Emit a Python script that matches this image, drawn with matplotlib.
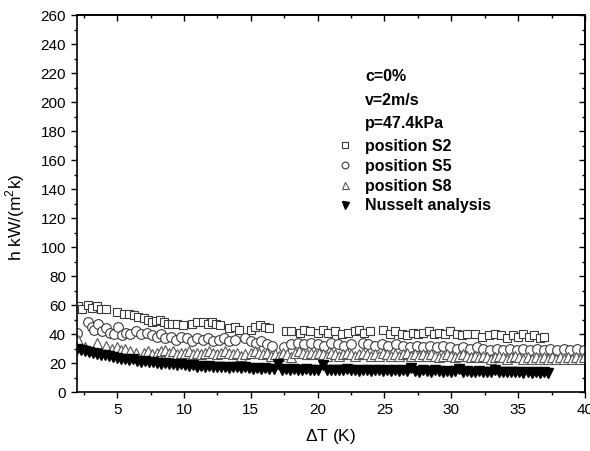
import matplotlib
matplotlib.use("Agg")
import matplotlib.pyplot as plt
from matplotlib.ticker import MultipleLocator

plt.rcParams['font.family'] = ['Liberation Sans', 'DejaVu Sans']
plt.rcParams['mathtext.fontset'] = 'custom'
plt.rcParams['mathtext.rm'] = 'Liberation Sans'

# heat transfer coefficient, position S2
s2_dt = [2.1, 2.4, 2.8, 3.1, 3.5, 3.8, 4.2, 5.0, 5.5, 5.9, 6.3, 6.6, 7.0, 7.3, 7.6, 7.9,
         8.2, 8.5, 8.8, 9.1, 9.5, 9.9, 10.6, 11.0, 11.4, 11.8, 12.1, 12.4, 12.7, 13.4,
         13.8, 14.1, 15.0, 15.3, 15.7, 16.1, 16.4, 17.6, 18.0, 18.7, 19.0, 19.4, 20.0,
         20.4, 20.8, 21.3, 21.8, 22.3, 22.8, 23.1, 23.5, 23.9, 24.9, 25.4, 25.8, 26.3,
         26.7, 27.1, 27.5, 27.9, 28.3, 28.7, 29.1, 29.5, 29.9, 30.4, 30.8, 31.2, 31.8,
         32.3, 32.8, 33.3, 33.7, 34.2, 34.6, 35.0, 35.4, 35.8, 36.2, 36.6, 36.9]
s2_h = [59, 57, 60, 58, 59, 57, 57, 55, 54, 54, 53, 52, 51, 50, 48, 49,
        50, 48, 47, 47, 47, 46, 47, 48, 48, 47, 48, 47, 46, 44,
        45, 43, 43, 45, 46, 45, 44, 42, 42, 41, 43, 42, 41,
        43, 41, 42, 40, 41, 42, 43, 41, 42, 43, 40, 42, 40,
        39, 41, 40, 41, 42, 40, 41, 40, 42, 40, 39, 40, 40,
        38, 39, 40, 39, 37, 39, 38, 40, 38, 39, 37, 38]

# position S5
s5_dt = [2.0, 2.8, 3.1, 3.3, 3.6, 3.9, 4.2, 4.5, 4.8, 5.1, 5.4, 5.7, 6.0, 6.4, 6.8, 7.2,
         7.6, 8.0, 8.3, 8.6, 9.0, 9.4, 9.8, 10.2, 10.6, 11.0, 11.4, 11.8, 12.2, 12.6,
         13.0, 13.4, 13.8, 14.6, 15.0, 15.4, 15.8, 16.2, 16.6, 17.5, 18.0, 18.5, 19.0,
         19.5, 20.0, 20.5, 21.0, 21.5, 22.0, 22.5, 23.4, 23.8, 24.3, 24.8, 25.3, 25.9,
         26.4, 26.9, 27.4, 27.9, 28.4, 28.9, 29.4, 29.9, 30.4, 30.9, 31.4, 31.9, 32.4,
         32.9, 33.4, 33.9, 34.4, 34.9, 35.4, 35.9, 36.4, 36.9, 37.4, 37.9, 38.4, 38.9,
         39.4, 39.9]
s5_h = [41, 48, 45, 43, 47, 42, 44, 41, 40, 45, 39, 41, 40, 42, 40, 41,
        39, 38, 40, 37, 38, 36, 38, 37, 35, 37, 36, 37, 35, 36,
        37, 35, 36, 37, 35, 34, 35, 33, 32, 31, 33, 34, 33,
        34, 33, 32, 34, 33, 32, 33, 34, 33, 32, 33, 32, 33,
        32, 31, 32, 31, 32, 31, 32, 31, 30, 31, 30, 31, 30,
        29, 30, 29, 30, 29, 30, 29, 30, 29, 30, 29, 30, 29,
        30, 29]

# position S8
s8_dt = [2.1, 2.6, 3.5, 4.2, 4.6, 5.0, 5.3, 5.6, 6.0, 6.4, 7.0, 7.3, 7.6, 8.0, 8.3, 8.6,
         8.9, 9.2, 9.5, 9.8, 10.1, 10.4, 10.7, 11.0, 11.3, 11.6, 11.9, 12.2, 12.5, 12.8,
         13.1, 13.4, 13.7, 14.0, 14.3, 14.6, 15.0, 15.3, 15.6, 15.9, 16.2, 16.5, 16.8,
         17.1, 17.4, 17.7, 18.0, 18.3, 18.6, 18.9, 19.2, 19.5, 19.8, 20.1, 20.4, 20.7,
         21.0, 21.3, 21.6, 21.9, 22.2, 22.5, 22.8, 23.1, 23.4, 23.7, 24.0, 24.3, 24.6,
         24.9, 25.2, 25.5, 25.8, 26.1, 26.4, 26.7, 27.0, 27.3, 27.6, 27.9, 28.2, 28.5,
         28.8, 29.1, 29.4, 29.7, 30.0, 30.3, 30.6, 30.9, 31.2, 31.5, 31.8, 32.1, 32.4,
         32.7, 33.0, 33.3, 33.6, 33.9, 34.2, 34.5, 34.8, 35.1, 35.4, 35.7, 36.0, 36.3,
         36.6, 36.9, 37.2, 37.5, 37.8, 38.1, 38.4, 38.7, 39.0, 39.3, 39.6, 39.9]
s8_h = [36, 31, 34, 32, 30, 31, 29, 30, 28, 27, 27, 28, 26, 27, 28, 29,
        27, 28, 26, 27, 27, 28, 26, 27, 26, 27, 28, 27, 26, 27,
        28, 27, 26, 27, 25, 26, 27, 28, 27, 26, 27, 25, 26,
        25, 27, 26, 24, 27, 28, 27, 26, 27, 26, 27, 26, 25,
        27, 26, 25, 26, 27, 26, 25, 26, 27, 26, 25, 26, 25,
        27, 26, 25, 26, 25, 26, 27, 25, 26, 25, 26, 25, 26,
        25, 24, 25, 26, 25, 24, 25, 26, 25, 24, 25, 24, 25,
        24, 23, 24, 25, 24, 23, 24, 25, 24, 23, 24, 23, 24,
        23, 24, 23, 24, 23, 24, 23, 24, 23, 24, 23, 24]

# Nusselt analysis prediction
nu_dt = [2.0, 2.3, 2.6, 2.9, 3.2, 3.5, 3.8, 4.1, 4.4, 4.7, 5.0, 5.3, 5.6, 5.9, 6.2, 6.5,
         6.8, 7.1, 7.4, 7.7, 8.0, 8.3, 8.6, 8.9, 9.2, 9.5, 9.8, 10.1, 10.4, 10.7, 11.0,
         11.3, 11.6, 11.9, 12.2, 12.5, 12.8, 13.1, 13.4, 13.7, 14.0, 14.3, 14.6, 14.9,
         15.2, 15.5, 15.8, 16.1, 16.4, 16.7, 17.0, 17.3, 17.6, 17.9, 18.2, 18.5, 18.8,
         19.1, 19.4, 19.7, 20.0, 20.4, 20.7, 21.0, 21.3, 21.6, 21.9, 22.2, 22.5, 22.8,
         23.1, 23.4, 23.7, 24.0, 24.3, 24.6, 24.9, 25.2, 25.5, 25.8, 26.1, 26.4, 26.7,
         27.0, 27.3, 27.6, 27.9, 28.2, 28.5, 28.8, 29.1, 29.4, 29.7, 30.0, 30.3, 30.6,
         30.9, 31.2, 31.5, 31.8, 32.1, 32.4, 32.7, 33.0, 33.3, 33.6, 33.9, 34.2, 34.5,
         34.8, 35.1, 35.4, 35.7, 36.0, 36.3, 36.6, 36.9, 37.2]
nu_h = [30.0, 29.0, 28.5, 27.5, 27.0, 26.5, 25.5, 25.5, 24.5, 24.0, 23.5, 23.0, 23.0,
        22.0, 22.5, 21.5, 21.0, 21.5, 20.5, 20.5, 20.0, 19.5, 20.0, 19.0, 19.5, 18.5,
        19.0, 18.5, 18.0, 18.5, 17.5, 18.0, 17.5, 18.0, 17.0, 17.5, 17.0, 17.5, 16.5,
        17.0, 17.0, 16.5, 17.0, 16.5, 16.0, 16.5, 16.0, 16.5, 16.0, 16.0, 19.5, 15.5,
        16.0, 15.5, 16.0, 15.5, 15.5, 16.0, 15.0, 15.5, 15.5, 18.5, 15.0, 15.5, 15.0,
        15.5, 15.0, 16.0, 15.0, 15.5, 14.5, 15.0, 15.5, 14.5, 15.0, 15.5, 14.5, 15.0,
        14.5, 15.0, 14.5, 15.0, 14.5, 16.5, 14.5, 14.0, 15.0, 14.5, 14.0, 15.0, 14.5,
        14.0, 14.5, 14.0, 14.5, 16.0, 14.0, 14.5, 13.5, 14.0, 14.5, 13.5, 14.0, 13.5,
        15.5, 14.0, 13.5, 14.0, 13.5, 13.5, 14.0, 13.0, 13.5, 13.0, 13.5, 13.0, 13.5,
        13.0]

conditions = ["c=0%", "v=2m/s", "p=47.4kPa"]

fig = plt.figure(figsize=(5.9, 4.51), dpi=100)
ax = fig.add_axes([0.1305, 0.1308, 0.861, 0.8359])

open_style = dict(linestyle='none', markerfacecolor='white', markersize=6.3,
                  markeredgewidth=0.8)
ax.plot(s2_dt, s2_h, marker='s', markeredgecolor='#3a3a3a', label='position S2',
        **open_style)
ax.plot(s5_dt, s5_h, marker='o', markeredgecolor='#3a3a3a', label='position S5',
        **dict(open_style, markersize=7.0))
ax.plot(s8_dt, s8_h, marker='^', markeredgecolor='#555555', label='position S8',
        **dict(open_style, markersize=7.2))
ax.plot(nu_dt, nu_h, marker='v', linestyle='none', color='black', markersize=7.2,
        label='Nusselt analysis')

ax.set_xlim(2, 40)
ax.set_ylim(0, 260)
ax.xaxis.set_major_locator(MultipleLocator(5))
ax.xaxis.set_minor_locator(MultipleLocator(2.5))
ax.yaxis.set_major_locator(MultipleLocator(20))
ax.yaxis.set_minor_locator(MultipleLocator(10))

ax.tick_params(which='both', direction='out', top=False, right=False,
               labelsize=11, width=1.0)
ax.tick_params(which='major', length=4.5)
ax.tick_params(which='minor', length=2.5)

# mirrored ticks pointing inward on the top and right
sec_x = ax.secondary_xaxis('top')
sec_x.xaxis.set_major_locator(MultipleLocator(5))
sec_x.xaxis.set_minor_locator(MultipleLocator(2.5))
sec_x.tick_params(which='both', direction='in', labeltop=False, width=1.0)
sec_x.tick_params(which='major', length=4.5)
sec_x.tick_params(which='minor', length=2.5)
sec_y = ax.secondary_yaxis('right')
sec_y.yaxis.set_major_locator(MultipleLocator(20))
sec_y.yaxis.set_minor_locator(MultipleLocator(10))
sec_y.tick_params(which='both', direction='in', labelright=False, width=1.0)
sec_y.tick_params(which='major', length=4.5)
sec_y.tick_params(which='minor', length=2.5)

for sp in ax.spines.values():
    sp.set_linewidth(1.2)
sec_x.spines['top'].set_linewidth(1.2)
sec_y.spines['right'].set_linewidth(1.2)

ax.set_xlabel(r"$\Delta$T (K)", fontsize=12.5)
ax.set_ylabel(r"h kW/(m$^2$k)", fontsize=12.5)
ax.xaxis.set_label_coords(0.5, -0.093)
ax.yaxis.set_label_coords(-0.098, 0.464)

for i, line in enumerate(conditions):
    ax.text(0.567, 0.836 - i * 0.0625, line, transform=ax.transAxes,
            fontsize=11.5, fontweight='bold', va='center', ha='left')

ax.legend(loc='upper left', bbox_to_anchor=(0.512, 0.671), frameon=False,
          prop={'weight': 'bold', 'size': 11.5}, handlelength=1.0,
          handletextpad=0.75, labelspacing=0.3, borderpad=0, borderaxespad=0,
          markerscale=0.7)

fig.savefig("out.png", dpi=100)
